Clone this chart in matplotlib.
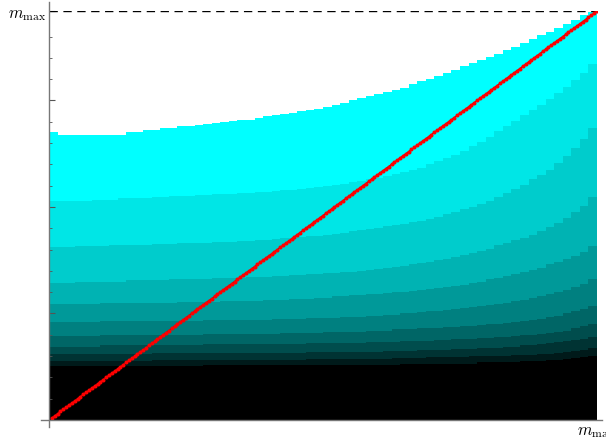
import matplotlib
matplotlib.use("Agg")
import matplotlib.pyplot as plt
from matplotlib.lines import Line2D
import numpy as np

plt.rcParams["mathtext.fontset"] = "cm"

# upper mass limit and bar grid
M_MAX = 19.2
BAR_WIDTH = 0.3
N_BARS = 64

# cumulative level tops, bottom layer (black) first, top layer (cyan) last
level_01 = [2.55]*12 + [2.55]*6 + [2.6]*6 + [2.6]*12 + [2.6]*5 + [2.65]*6 + \
    [2.65, 2.65, 2.65, 2.7, 2.7, 2.7] + \
    [2.7, 2.7, 2.75, 2.75, 2.75, 2.8, 2.8, 2.85, 2.9, 2.95, 3.0]
level_02 = [2.75]*12 + [2.8]*12 + [2.8]*6 + [2.85]*6 + [2.85]*4 + [2.9]*4 + [2.95]*3 + \
    [2.95, 2.95, 3.0, 3.0, 3.0, 3.0] + \
    [3.0, 3.05, 3.05, 3.05, 3.1, 3.1, 3.15, 3.2, 3.25, 3.3, 3.4]
level_03 = [3.1]*12 + [3.15]*12 + [3.15]*6 + [3.2]*6 + \
    [3.2, 3.2, 3.2, 3.25, 3.25, 3.25, 3.25, 3.3, 3.3, 3.3, 3.3] + \
    [3.35, 3.35, 3.35, 3.4, 3.4, 3.4] + \
    [3.45, 3.45, 3.5, 3.5, 3.55, 3.6, 3.65, 3.7, 3.75, 3.8, 3.9]
level_04 = [3.45]*6 + [3.5]*6 + [3.5]*6 + [3.55]*6 + [3.55]*6 + [3.6]*6 + \
    [3.6, 3.65, 3.65, 3.65, 3.65, 3.7, 3.7, 3.7, 3.7, 3.75, 3.75] + \
    [3.8, 3.8, 3.8, 3.85, 3.85, 3.9] + \
    [3.9, 3.95, 4.0, 4.0, 4.05, 4.1, 4.15, 4.2, 4.3, 4.4, 4.5]
level_05 = [3.95]*6 + [4.0]*6 + [4.0]*6 + [4.05]*6 + \
    [4.05, 4.05, 4.05, 4.1, 4.1, 4.1, 4.1, 4.1, 4.15, 4.15, 4.15, 4.15] + \
    [4.15, 4.2, 4.2, 4.2, 4.25, 4.25, 4.25, 4.3, 4.3, 4.3, 4.35] + \
    [4.35, 4.4, 4.4, 4.45, 4.5, 4.5] + \
    [4.55, 4.6, 4.65, 4.7, 4.75, 4.85, 4.9, 5.0, 5.1, 5.2, 5.35]
level_06 = [4.6]*6 + [4.65]*6 + [4.65]*6 + [4.7]*6 + \
    [4.7, 4.7, 4.75, 4.75, 4.75, 4.75, 4.8, 4.8, 4.8, 4.8, 4.85, 4.85] + \
    [4.85, 4.9, 4.9, 4.95, 4.95, 5.0, 5.0, 5.05, 5.1, 5.1, 5.15] + \
    [5.2, 5.25, 5.3, 5.35, 5.4, 5.45] + \
    [5.5, 5.6, 5.65, 5.75, 5.8, 5.9, 6.0, 6.1, 6.25, 6.4, 6.6]
level_07 = [5.45]*6 + [5.5]*6 + \
    [5.5, 5.5, 5.5, 5.55, 5.55, 5.55, 5.55, 5.55, 5.6, 5.6, 5.6, 5.6] + \
    [5.6, 5.65, 5.65, 5.65, 5.7, 5.7, 5.7, 5.75, 5.75, 5.8, 5.8, 5.85] + \
    [5.85, 5.9, 5.9, 5.95, 6.0, 6.0, 6.05, 6.1, 6.15, 6.2, 6.25] + \
    [6.3, 6.35, 6.45, 6.5, 6.6, 6.65] + [6.75, 6.85, 6.95, 7.05, 7.15, 7.3] + \
    [7.4, 7.55, 7.7, 7.9, 8.15]
level_08 = [6.45, 6.45, 6.45, 6.5, 6.5, 6.5, 6.5, 6.5, 6.5, 6.55, 6.55, 6.55] + \
    [6.55, 6.55, 6.6, 6.6, 6.6, 6.6, 6.6, 6.65, 6.65, 6.65, 6.65, 6.7] + \
    [6.7, 6.7, 6.75, 6.75, 6.8, 6.8, 6.85, 6.85, 6.9, 6.9, 6.95, 6.95] + \
    [7.0, 7.05, 7.1, 7.15, 7.2, 7.25, 7.3, 7.35, 7.4, 7.5, 7.55] + \
    [7.65, 7.75, 7.85, 7.95, 8.05, 8.2] + [8.3, 8.45, 8.55, 8.7, 8.85, 9.05] + \
    [9.25, 9.5, 9.75, 10.05, 10.45]
level_09 = [8.1, 8.1, 8.1, 8.15, 8.15, 8.15, 8.15, 8.2, 8.2, 8.2, 8.2, 8.2] + \
    [8.25, 8.25, 8.25, 8.3, 8.3, 8.3, 8.3, 8.35, 8.35, 8.35, 8.4, 8.4] + \
    [8.45, 8.45, 8.5, 8.55, 8.55, 8.6, 8.65, 8.65, 8.7, 8.75, 8.8, 8.85] + \
    [8.9, 8.95, 9.0, 9.1, 9.15, 9.2, 9.3, 9.35, 9.45, 9.55, 9.65] + \
    [9.75, 9.9, 10.0, 10.15, 10.3, 10.45] + [10.65, 10.85, 11.05, 11.3, 11.5, 11.75] + \
    [12.05, 12.4, 12.75, 13.2, 13.7]
level_10 = [10.3, 10.3, 10.3, 10.3, 10.3, 10.35, 10.35, 10.35, 10.4, 10.4, 10.4, 10.4] + \
    [10.45, 10.45, 10.5, 10.5, 10.5, 10.55, 10.55, 10.6, 10.6, 10.6, 10.65, 10.65] + \
    [10.7, 10.7, 10.75, 10.8, 10.8, 10.85, 10.9, 10.95, 11.0, 11.05, 11.1, 11.15] + \
    [11.2, 11.3, 11.35, 11.45, 11.55, 11.65, 11.75, 11.85, 12.0, 12.15, 12.3] + \
    [12.45, 12.65, 12.85, 13.05, 13.3, 13.55] + [13.8, 14.05, 14.3, 14.55, 14.8, 15.05] + \
    [15.35, 15.65, 15.95, 16.3, 16.7]
level_11 = [13.5] + [13.4]*8 + [13.5, 13.5, 13.6, 13.6, 13.7, 13.7, 13.8, 13.8, 13.85,
    13.9, 13.95, 14.0, 14.05, 14.1, 14.1, 14.2, 14.25, 14.3, 14.35, 14.4, 14.5, 14.55,
    14.6, 14.7, 14.8, 14.9, 15.0, 15.1, 15.2, 15.3, 15.4, 15.5, 15.6, 15.75, 15.9, 16.0,
    16.15, 16.3, 16.45, 16.6, 16.75, 16.9, 17.05, 17.2, 17.35, 17.5, 17.7, 17.9, 18.05,
    18.2, 18.4, 18.6, 18.8, 19.0, 19.15]

levels = [level_01, level_02, level_03, level_04, level_05, level_06,
          level_07, level_08, level_09, level_10, level_11]

# diagonal reference points m = m
m_points = np.arange(1, 193) * 0.1

fig = plt.figure(figsize=(6.06, 4.39), dpi=100)
ax = fig.add_axes([49 / 606, 18 / 439, 548 / 606, 409 / 439])

x_left = np.arange(N_BARS) * BAR_WIDTH
base = np.zeros(N_BARS)
n = len(levels)
for k, lev in enumerate(levels):
    top = np.asarray(lev, dtype=float)
    frac = k / (n - 1)
    ax.bar(x_left, top - base, width=BAR_WIDTH, bottom=base, align="edge",
           color=(0.0, frac, frac), linewidth=0)
    base = top

ax.plot(m_points, m_points, color="#c80000", lw=1.0, marker="o", ms=2.9,
        mec="none", mfc="#ff0000", zorder=5)

ax.axhline(M_MAX, color="black", lw=1.0, dashes=(6, 4), zorder=4)

ax.set_xlim(0, M_MAX)
ax.set_ylim(0, M_MAX)
for s in ax.spines.values():
    s.set_visible(False)
ax.set_xticks([])
ax.set_yticks([5, 10, 15, M_MAX], ["", "", "", r"$m_{\rm max}$"])
ax.set_yticks([v for v in range(1, 19) if v % 5], minor=True)
ax.tick_params(axis="y", which="major", direction="in", length=4, width=0.8,
               color="#555555", labelsize=12, pad=2)
ax.tick_params(axis="y", which="minor", direction="in", length=2.5, width=0.6,
               color="#555555")
ax.set_facecolor("white")

axis_color = "#777777"
fig.add_artist(Line2D([49 / 606, 49 / 606], [(439 - 428) / 439, (439 - 3) / 439],
                      transform=fig.transFigure, color=axis_color, lw=1.0))
fig.add_artist(Line2D([41 / 606, 602 / 606], [18 / 439, 18 / 439],
                      transform=fig.transFigure, color=axis_color, lw=1.0))
fig.text(577 / 606, (439 - 431) / 439, r"$m_{\rm max}$", fontsize=12,
         ha="left", va="center")

fig.savefig("out.png", dpi=100)
